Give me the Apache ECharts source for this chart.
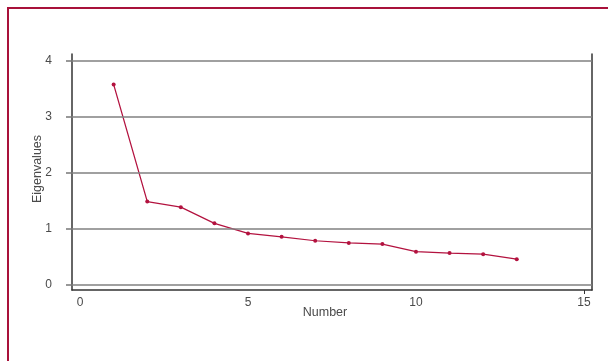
<!DOCTYPE html>
<html>
<head>
<meta charset="utf-8">
<script src="https://cdn.jsdelivr.net/npm/echarts@6/dist/echarts.min.js"></script>
<style>
  html, body { margin: 0; padding: 0; background: #ffffff; }
  #chart { width: 608px; height: 361px; }
</style>
</head>
<body>
<div id="chart"></div>
<script>
// Scree plot: eigenvalue of each component, in order
const componentNumbers = [1, 2, 3, 4, 5, 6, 7, 8, 9, 10, 11, 12, 13];
const eigenvalues = [3.58, 1.49, 1.39, 1.10, 0.92, 0.86, 0.79, 0.75, 0.73, 0.595, 0.57, 0.55, 0.46];

// Tick labels
const xTickValues = [0, 5, 10, 15];
const xTickMarks = [15];
const yTickValues = [0, 1, 2, 3, 4];

const lineColor = '#b3123f';
const frameColor = '#a8113a';
const textColor = '#4a4a4a';
const fontFamily = '"Liberation Sans", Arial, sans-serif';
const tickFontSize = 12;
const nameFontSize = 12.5;

const chart = echarts.init(document.getElementById('chart'), null, { renderer: 'canvas' });

chart.setOption({
  backgroundColor: '#ffffff',
  animation: false,
  graphic: [{
    type: 'rect',
    shape: { x: 8, y: 8, width: 800, height: 600 },
    style: { fill: 'none', stroke: frameColor, lineWidth: 2 },
    silent: true,
    z: 0
  }],
  grid: { left: 72, right: 16, top: 54, bottom: 71, containLabel: false },
  xAxis: {
    type: 'value',
    min: -0.24,
    max: 15.24,
    name: 'Number',
    nameLocation: 'middle',
    nameGap: 16,
    nameMoveOverlap: false,
    nameTextStyle: { color: textColor, fontSize: nameFontSize, fontFamily: fontFamily, padding: [0, 14, 0, 0] },
    axisLine: { show: true, onZero: false, lineStyle: { color: '#333333', width: 1.5 } },
    axisTick: { show: true, customValues: xTickMarks, length: 4, inside: false, lineStyle: { color: '#333333' } },
    axisLabel: { customValues: xTickValues, margin: 7, color: textColor, fontSize: tickFontSize, fontFamily: fontFamily },
    splitLine: { show: false }
  },
  yAxis: [{
    type: 'value',
    min: -0.09,
    max: 4.125,
    name: 'Eigenvalues',
    nameLocation: 'middle',
    nameGap: 28,
    nameRotate: 90,
    nameMoveOverlap: false,
    nameTextStyle: { color: textColor, fontSize: nameFontSize, fontFamily: fontFamily, padding: [0, 0, 0, 6] },
    axisLine: { show: true, onZero: false, lineStyle: { color: '#333333', width: 1.5 } },
    axisTick: { show: true, customValues: yTickValues, length: 6, inside: false, lineStyle: { color: '#777777', width: 1.5 } },
    axisLabel: { customValues: yTickValues, margin: 20, color: textColor, fontSize: tickFontSize, fontFamily: fontFamily },
    splitLine: { show: false }
  }, {
    type: 'value',
    position: 'right',
    min: -0.09,
    max: 4.125,
    axisLine: { show: true, onZero: false, lineStyle: { color: '#333333', width: 1.5 } },
    axisTick: { show: false },
    axisLabel: { show: false },
    splitLine: { show: false }
  }],
  series: [{
    type: 'line',
    data: componentNumbers.map((n, i) => [n, eigenvalues[i]]),
    symbol: 'circle',
    symbolSize: 4,
    lineStyle: { color: lineColor, width: 1.2 },
    itemStyle: { color: lineColor },
    z: 3,
    markLine: {
      silent: true,
      symbol: ['none', 'none'],
      label: { show: false },
      lineStyle: { color: '#808080', width: 1.5, type: 'solid' },
      data: yTickValues.map(v => ({ yAxis: v }))
    }
  }]
});
</script>
</body>
</html>
